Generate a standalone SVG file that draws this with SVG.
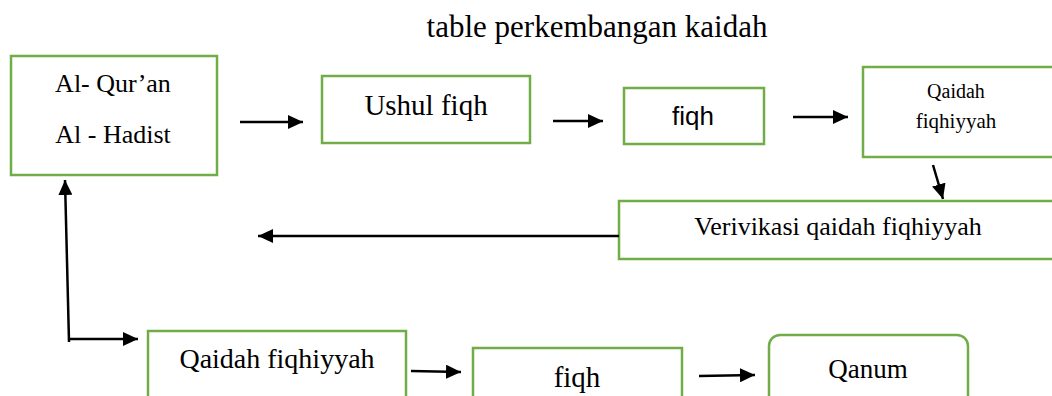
<svg xmlns="http://www.w3.org/2000/svg" width="1052" height="396" viewBox="0 0 1052 396">
<style>
.box{fill:#fff;stroke:#70AD47;stroke-width:2.5}
.t{font-family:"Liberation Serif","Times New Roman",serif;fill:#000;text-anchor:middle}
.s{font-family:"Liberation Sans",Arial,sans-serif;fill:#000;text-anchor:middle}
.c{stroke:#000;stroke-width:2.5;fill:none;marker-end:url(#ah)}
</style>
<defs>
<marker id="ah" markerUnits="userSpaceOnUse" markerWidth="16" markerHeight="14" refX="15" refY="7" orient="auto">
<path d="M0,0 L15,7 L0,14 z" fill="#000"/>
</marker>
</defs>
<rect width="1052" height="396" fill="#fff"/>
<text class="t" x="597" y="37" font-size="31">table perkembangan kaidah</text>
<g id="alquran">
<rect class="box" x="11" y="56" width="206" height="119"/>
<text class="t" x="113" y="92" font-size="26">Al- Qur’an</text>
<text class="t" x="113" y="143" font-size="26">Al - Hadist</text>
</g>
<g id="ushul">
<rect class="box" x="322" y="76" width="208" height="67"/>
<text class="t" x="426" y="115" font-size="29">Ushul fiqh</text>
</g>
<g id="fiqh1">
<rect class="box" x="624" y="88" width="140" height="56"/>
<text class="s" x="693" y="125" font-size="26">fiqh</text>
</g>
<g id="qaidah1">
<rect class="box" x="863" y="67" width="195" height="90"/>
<text class="t" x="956" y="98" font-size="20">Qaidah</text>
<text class="t" x="956" y="128" font-size="21">fiqhiyyah</text>
</g>
<g id="verivikasi">
<rect class="box" x="619" y="201" width="440" height="58"/>
<text class="t" x="838" y="235" font-size="26">Verivikasi qaidah fiqhiyyah</text>
</g>
<g id="qaidah2">
<rect class="box" x="148" y="331" width="258" height="80"/>
<text class="t" x="277" y="368" font-size="28">Qaidah fiqhiyyah</text>
</g>
<g id="fiqh2">
<rect class="box" x="473" y="348" width="209" height="60"/>
<text class="t" x="577" y="387" font-size="29">fiqh</text>
</g>
<g id="qanum">
<rect class="box" x="769" y="335" width="199" height="75" rx="11" ry="11"/>
<text class="t" x="868" y="378" font-size="27">Qanum</text>
</g>
<g id="connectors">
<line class="c" x1="240" y1="122" x2="303" y2="122"/>
<line class="c" x1="553" y1="121" x2="603" y2="121"/>
<line class="c" x1="793" y1="117" x2="848" y2="117"/>
<line class="c" x1="933" y1="165" x2="943" y2="199"/>
<line class="c" x1="619" y1="236" x2="258" y2="236"/>
<line class="c" x1="69" y1="342" x2="65" y2="180"/>
<line class="c" x1="68" y1="339" x2="138" y2="339"/>
<line class="c" x1="411" y1="371" x2="461" y2="372"/>
<line class="c" x1="699" y1="376" x2="755" y2="375"/>
</g>
</svg>
